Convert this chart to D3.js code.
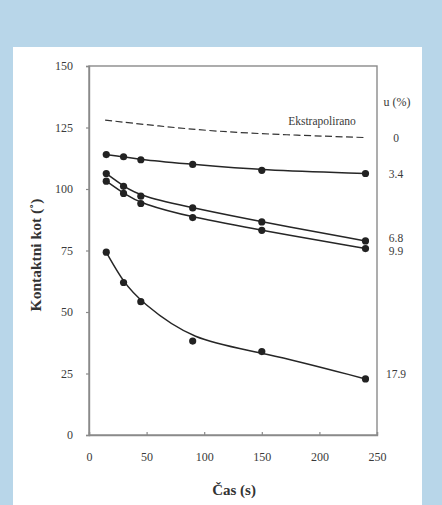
<!DOCTYPE html>
<html>
<head>
<meta charset="utf-8">
<script src="https://cdn.jsdelivr.net/npm/d3@7"></script>
<style>
    html, body { margin: 0; padding: 0; background: #b8d6e9; }
    svg { display: block; }
</style>
</head>
<body>
<svg></svg>
<script>
// vrijeme (s)
var times = [15, 30, 45, 90, 150, 240];

// kontaktni kut za svaki udio u (%)
var u34 = [114.0, 113.1, 111.9, 110.0, 107.6, 106.3];
var u68 = [106.3, 101.1, 97.1, 92.3, 86.6, 78.9];
var u99 = [103.2, 98.2, 94.1, 88.4, 83.2, 75.8];
var u179 = [74.3, 62.0, 54.2, 38.2, 33.9, 22.8];

// ekstrapolirana krivulja (u = 0)
var extraTimes = [14, 60, 110, 170, 241];
var extraValues = [128.0, 125.6, 123.4, 122.0, 120.9];

var seriesLabels = ["0", "3.4", "6.8", "9.9", "17.9"];
var xTicks = [0, 50, 100, 150, 200, 250];
var yTicks = [0, 25, 50, 75, 100, 125, 150];

var width = 442, height = 505;
var serif = "'Times New Roman', 'Liberation Serif', Times, serif";

var svg = d3.select("svg")
    .attr("width", width)
    .attr("height", height)
    .style("font-family", serif);

// bijela ploha
svg.append("rect")
    .attr("x", 13)
    .attr("y", 47)
    .attr("width", 409)
    .attr("height", height - 47)
    .style("fill", "#ffffff");

var margin = {left: 89, right: 65, top: 66, bottom: 70};

var x = d3.scaleLinear()
    .domain([0, 250])
    .range([margin.left, width - margin.right]);

var y = d3.scaleLinear()
    .domain([0, 150])
    .range([height - margin.bottom, margin.top]);

// okvir
svg.append("rect")
    .attr("x", x(0))
    .attr("y", y(150))
    .attr("width", x(250) - x(0))
    .attr("height", y(0) - y(150))
    .style("fill", "none")
    .style("stroke", "#8a8a8a")
    .style("stroke-width", 1.4);

var gx = svg.append("g")
    .attr("transform", "translate(0," + y(0) + ")")
    .call(d3.axisBottom(x).tickValues(xTicks).tickSize(-3).tickPadding(17));

var gy = svg.append("g")
    .attr("transform", "translate(" + x(0) + ",0)")
    .call(d3.axisLeft(y).tickValues(yTicks).tickSize(3).tickPadding(13));

[gx, gy].forEach(function (g) {
    g.attr("font-family", serif).attr("font-size", 12);
    g.select(".domain").style("stroke", "#8a8a8a").style("stroke-width", 1.4);
    g.selectAll(".tick line").style("stroke", "#8a8a8a").style("stroke-width", 1.2);
    g.selectAll(".tick text").style("fill", "#3a3a3a");
});

// naslovi osi
svg.append("text")
    .attr("x", 234)
    .attr("y", 495)
    .attr("text-anchor", "middle")
    .style("font-size", "15px")
    .style("font-weight", "bold")
    .style("fill", "#333")
    .text("Čas (s)");

svg.append("text")
    .attr("transform", "translate(41,255) rotate(-90)")
    .attr("text-anchor", "middle")
    .style("font-size", "15.5px")
    .style("font-weight", "bold")
    .style("fill", "#333")
    .text("Kontaktni kot (˚)");

// krivulje prilagodbe: glatko kroz mjerne tocke
var line = d3.line()
    .x(function (d) { return x(d[0]); })
    .y(function (d) { return y(d[1]); })
    .curve(d3.curveBasis);

// ekstrapolirano
svg.append("path")
    .datum(d3.zip(extraTimes, extraValues))
    .attr("d", line)
    .style("fill", "none")
    .style("stroke", "#333")
    .style("stroke-width", 1.2)
    .style("stroke-dasharray", "7,3.5");

svg.append("text")
    .attr("x", 322)
    .attr("y", 125)
    .attr("text-anchor", "middle")
    .style("font-size", "11.5px")
    .style("fill", "#3a3a3a")
    .text("Ekstrapolirano");

var series = [u34, u68, u99, u179];

series.forEach(function (vals) {
    var pts = d3.zip(times, vals);
    svg.append("path")
        .datum(pts)
        .attr("d", line)
        .style("fill", "none")
        .style("stroke", "#262626")
        .style("stroke-width", 1.5);

    svg.append("g")
        .selectAll("circle")
        .data(pts)
        .enter().append("circle")
        .attr("cx", function (d) { return x(d[0]); })
        .attr("cy", function (d) { return y(d[1]); })
        .attr("r", 3.6)
        .style("fill", "#222");
});

// oznake u (%) desno
svg.append("text")
    .attr("x", 397)
    .attr("y", 106)
    .attr("text-anchor", "middle")
    .style("font-size", "12px")
    .style("fill", "#3a3a3a")
    .text("u (%)");

var lastVals = [extraValues[extraValues.length - 1]].concat(series.map(function (s) { return s[s.length - 1]; }));
var nudge = [0, 0, -3, 2, -4.5];

svg.append("g")
    .selectAll("text")
    .data(seriesLabels)
    .enter().append("text")
    .attr("x", 396)
    .attr("y", function (d, i) { return y(lastVals[i]) + nudge[i] + 4; })
    .attr("text-anchor", "middle")
    .style("font-size", "11.5px")
    .style("fill", "#3a3a3a")
    .text(function (d) { return d; });
</script>
</body>
</html>
